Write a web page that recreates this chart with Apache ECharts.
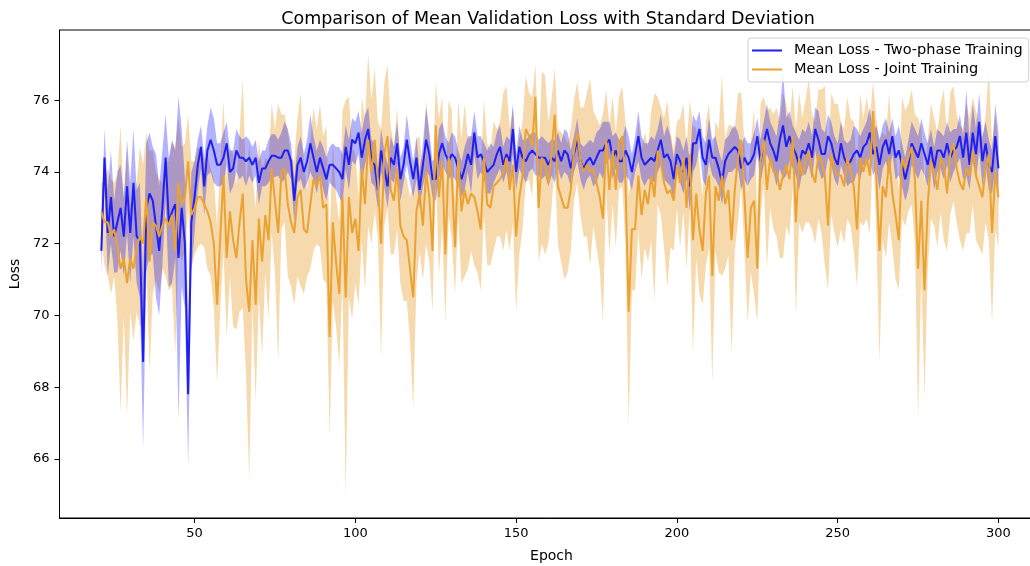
<!DOCTYPE html>
<html>
<head>
<meta charset="utf-8">
<title>Mean Validation Loss</title>
<script src="https://cdn.jsdelivr.net/npm/echarts@6/dist/echarts.min.js"></script>
<style>
  html, body { margin: 0; padding: 0; background: #fff; }
  #chart { width: 1030px; height: 566px; }
</style>
</head>
<body>
<div id="chart"></div>
<script>
// epochs run from 21 to 300, one value per epoch
const firstEpoch = 21;

// Two-phase training: mean loss and standard deviation
const twoPhaseMean = [
  71.8, 74.4, 72.3, 73.3, 72.2, 72.6, 73.0, 72.2, 73.6, 72.3,
  73.7, 72.2, 72.1, 68.7, 73.0, 73.4, 73.2, 72.5, 71.8, 73.0,
  74.4, 72.6, 72.9, 73.1, 71.6, 73.0, 72.0, 67.8, 72.6, 73.3,
  74.2, 74.7, 73.6, 74.6, 74.9, 74.6, 74.2, 74.2, 74.4, 74.8,
  74.0, 74.1, 74.6, 74.4, 74.4, 74.3, 74.4, 74.2, 74.4, 73.7,
  74.1, 74.1, 74.3, 74.45, 74.45, 74.4, 74.4, 74.6, 74.6, 74.3,
  73.2, 74.2, 74.4, 74.0, 74.3, 74.8, 74.4, 74.0, 74.4, 74.1,
  73.8, 74.2, 74.2, 74.1, 74.0, 73.8, 74.7, 74.2, 74.9, 74.8,
  75.1, 74.4, 74.9, 75.2, 74.3, 74.2, 73.5, 74.6, 74.1, 73.6,
  74.4, 74.2, 74.8, 73.8, 74.2, 74.9, 74.3, 73.8, 74.4, 73.5,
  74.2, 74.9, 74.5, 73.8, 73.8, 74.5, 74.8, 74.5, 74.3, 74.5,
  74.4, 74.1, 73.8, 74.1, 74.5, 74.2, 75.1, 74.4, 74.5, 74.3,
  74.0, 74.1, 74.2, 74.5, 74.7, 74.2, 74.5, 74.3, 75.2, 74.0,
  74.7, 74.4, 74.3, 74.5, 74.6, 74.5, 74.4, 74.4, 74.4, 74.2,
  74.4, 74.3, 74.6, 74.3, 74.6, 74.5, 74.1, 74.5, 74.9, 74.3,
  74.1, 74.3, 74.4, 74.2, 74.4, 74.6, 74.6, 74.8, 74.9, 74.4,
  74.6, 74.3, 74.3, 74.6, 74.4, 74.0, 74.5, 75.0, 74.4, 74.2,
  74.3, 74.4, 74.3, 74.6, 74.9, 74.4, 74.5, 74.3, 73.8, 74.5,
  74.3, 74.0, 74.4, 73.6, 74.8, 74.8, 75.2, 74.4, 74.2, 74.9,
  74.4, 74.4, 74.1, 73.7, 74.3, 74.5, 74.6, 74.7, 74.6, 74.1,
  74.4, 74.2, 74.3, 74.5, 75.0, 74.3, 74.8, 75.2, 74.8, 74.6,
  74.3, 74.9, 75.3, 74.7, 75.0, 74.7, 74.5, 74.2, 74.6, 74.5,
  74.8, 74.4, 75.2, 74.9, 74.5, 74.5, 75.0, 74.8, 74.4, 74.2,
  74.8, 74.4, 74.2, 74.3, 74.5, 74.6, 74.4, 74.7, 74.8, 75.1,
  74.5, 74.7, 74.2, 74.7, 74.9, 74.5, 75.0, 74.4, 74.6, 74.2,
  73.8, 74.2, 74.8, 74.6, 74.4, 74.8, 74.5, 74.2, 74.7, 74.1,
  74.6, 74.6, 74.4, 74.8, 74.4, 74.6, 74.7, 75.0, 74.4, 75.1,
  74.2, 75.1, 74.5, 75.4, 74.3, 74.8, 74.2, 74.0, 75.0, 74.1
];
const twoPhaseStd = [
  0.6, 0.8, 1.2, 1.3, 1.0, 1.4, 1.2, 1.1, 1.3, 1.4,
  1.5, 1.3, 1.6, 2.4, 1.8, 1.7, 1.5, 2.0, 1.8, 1.6,
  1.2, 1.8, 2.0, 1.5, 4.5, 2.2, 1.8, 2.0, 1.4, 1.0,
  0.7, 0.6, 0.8, 0.7, 0.9, 0.9, 0.6, 0.6, 0.7, 0.6,
  0.6, 0.5, 0.6, 0.6, 0.5, 0.7, 0.5, 0.5, 0.5, 0.6,
  0.5, 0.5, 0.6, 0.6, 0.6, 0.5, 0.7, 0.8, 0.6, 0.5,
  0.6, 0.5, 0.6, 0.5, 0.6, 0.8, 0.6, 0.6, 0.5, 0.6,
  0.6, 0.5, 0.6, 0.6, 0.7, 0.7, 0.6, 0.7, 0.6, 0.6,
  0.6, 0.7, 0.7, 0.6, 0.6, 0.6, 0.5, 0.6, 0.5, 0.6,
  0.6, 0.5, 0.6, 0.6, 0.5, 0.7, 0.6, 0.5, 0.6, 0.5,
  0.6, 0.9, 0.6, 0.5, 0.6, 0.7, 0.6, 0.5, 0.5, 0.6,
  0.6, 0.5, 0.5, 0.6, 0.5, 0.8, 0.6, 0.6, 0.5, 0.5,
  0.6, 0.7, 0.5, 0.6, 0.6, 0.5, 0.5, 0.6, 0.7, 0.5,
  0.6, 0.5, 0.6, 0.5, 0.5, 0.6, 0.5, 0.6, 0.5, 0.6,
  0.5, 0.6, 0.5, 0.5, 0.6, 0.6, 0.5, 0.5, 0.6, 0.5,
  0.6, 0.5, 0.5, 0.6, 0.7, 0.6, 0.8, 0.6, 0.5, 0.6,
  0.5, 0.6, 0.6, 0.7, 0.6, 0.5, 0.5, 0.7, 0.6, 0.6,
  0.5, 0.6, 0.6, 0.6, 0.7, 0.6, 0.8, 0.7, 0.6, 0.5,
  0.6, 0.6, 0.6, 0.7, 0.8, 0.6, 0.5, 0.6, 0.6, 0.6,
  0.5, 0.6, 0.5, 0.6, 0.6, 0.5, 0.6, 0.6, 0.5, 0.6,
  0.6, 0.6, 0.5, 0.6, 0.5, 0.6, 0.6, 0.7, 0.6, 0.6,
  0.7, 0.8, 1.5, 0.8, 0.7, 0.6, 0.6, 0.7, 0.6, 0.6,
  0.6, 0.6, 0.6, 0.8, 0.7, 0.6, 0.6, 0.6, 0.6, 0.6,
  0.6, 0.5, 0.6, 0.6, 0.8, 0.6, 0.6, 0.5, 0.6, 0.7,
  0.6, 0.6, 0.7, 0.6, 0.6, 0.6, 0.5, 0.6, 0.7, 0.6,
  0.6, 0.7, 0.6, 0.6, 0.6, 0.7, 0.6, 0.6, 0.5, 0.6,
  0.6, 0.5, 0.6, 0.6, 0.7, 0.6, 0.5, 0.6, 0.6, 1.2,
  0.7, 0.8, 0.7, 0.8, 0.7, 0.6, 0.7, 0.6, 0.9, 1.0
];

// Joint training: mean loss and standard deviation
const jointMean = [
  72.9, 72.6, 72.6, 72.2, 72.4, 71.9, 71.3, 71.6, 70.9, 71.6,
  71.3, 71.9, 72.2, 72.0, 73.3, 71.5, 72.6, 72.5, 72.2, 72.5,
  72.7, 72.5, 72.8, 71.8, 73.7, 73.1, 73.3, 74.3, 72.8, 73.0,
  73.3, 73.3, 73.1, 72.9, 72.6, 72.0, 70.3, 72.2, 73.9, 71.6,
  72.9, 72.1, 71.6, 72.6, 73.4, 71.0, 70.1, 72.1, 70.3, 72.7,
  71.5, 72.8, 72.1, 74.1, 73.2, 72.3, 74.0, 74.1, 73.1, 72.6,
  72.3, 73.3, 73.5, 72.4, 72.3, 73.1, 73.8, 73.6, 73.9, 73.0,
  73.1, 69.4, 72.6, 71.5, 70.6, 73.3, 70.5, 73.3, 72.3, 72.7,
  71.8, 74.1, 73.1, 74.9, 74.0, 74.9, 73.8, 72.0, 74.5, 75.0,
  73.5, 73.2, 74.1, 72.5, 72.2, 72.1, 71.3, 70.5, 72.9, 73.4,
  72.5, 74.0, 73.3, 71.8, 75.3, 73.3, 74.3, 71.7, 74.4, 73.9,
  71.9, 74.4, 72.9, 73.5, 73.1, 73.4, 73.3, 72.9, 72.4, 74.4,
  73.1, 73.0, 73.6, 73.7, 73.8, 74.0, 74.4, 73.5, 74.2, 72.2,
  73.3, 73.9, 75.2, 75.0, 74.7, 76.1, 73.0, 74.4, 74.2, 73.7,
  74.5, 75.6, 73.6, 73.3, 73.0, 73.0, 73.5, 74.6, 75.1, 74.3,
  74.0, 74.2, 74.0, 74.1, 73.7, 73.3, 72.7, 74.9, 73.5, 74.6,
  73.5, 74.8, 75.0, 73.7, 70.1, 72.4, 72.4, 73.9, 72.8, 73.5,
  73.1, 73.9, 73.3, 74.6, 74.3, 73.7, 73.4, 73.5, 73.2, 74.2,
  73.7, 74.4, 73.0, 74.5, 72.1, 73.4, 72.4, 71.8, 73.4, 73.9,
  71.1, 73.6, 73.2, 73.9, 73.1, 73.5, 72.1, 73.5, 74.4, 74.9,
  73.3, 71.6, 73.0, 73.2, 71.3, 74.3, 74.9, 73.5, 74.4, 74.0,
  74.0, 73.5, 73.9, 74.2, 73.8, 75.0, 72.6, 74.4, 73.9, 74.3,
  74.6, 74.0, 73.7, 74.5, 74.3, 73.9, 72.5, 74.5, 74.1, 73.9,
  73.9, 73.6, 74.4, 74.0, 73.6, 72.4, 74.4, 74.0, 74.4, 73.9,
  75.7, 73.9, 71.8, 73.6, 73.3, 74.4, 73.4, 72.8, 72.1, 74.4,
  74.1, 74.4, 74.7, 73.8, 71.3, 73.2, 70.7, 73.1, 74.3, 74.0,
  73.5, 74.4, 74.2, 73.4, 74.5, 74.8, 74.1, 73.7, 73.5, 74.1,
  73.9, 74.6, 73.9, 73.6, 73.3, 74.1, 74.5, 72.3, 74.0, 73.3
];
const jointStd = [
  0.8, 1.2, 1.5, 1.6, 1.3, 2.0, 4.0, 1.6, 3.7, 1.5,
  2.0, 1.8, 2.5, 2.2, 1.8, 3.1, 2.0, 1.5, 1.6, 1.2,
  1.6, 1.8, 2.0, 2.9, 1.8, 1.6, 1.5, 1.3, 1.5, 1.3,
  1.4, 1.3, 1.2, 1.6, 1.5, 1.8, 2.2, 2.0, 2.1, 2.2,
  1.8, 2.4, 2.0, 2.5, 3.2, 2.6, 4.7, 1.8, 2.7, 2.2,
  2.6, 1.6, 2.2, 1.8, 2.0, 3.6, 1.6, 1.5, 2.0, 1.8,
  2.0, 2.2, 2.7, 1.8, 1.2, 1.8, 2.0, 1.6, 2.0, 2.0,
  2.2, 2.8, 2.2, 1.8, 2.0, 2.4, 5.5, 2.8, 2.4, 1.8,
  1.5, 2.0, 2.4, 2.4, 2.0, 2.0, 1.6, 3.2, 2.0, 2.0,
  1.8, 1.5, 1.7, 1.6, 1.8, 1.7, 2.0, 3.1, 2.0, 1.6,
  1.5, 2.0, 1.8, 1.7, 1.2, 2.2, 1.8, 1.9, 1.6, 1.8,
  1.3, 1.6, 2.0, 2.4, 1.8, 1.6, 1.9, 1.7, 1.7, 1.6,
  1.7, 1.6, 1.8, 1.5, 1.6, 2.2, 2.0, 1.7, 1.6, 2.1,
  1.6, 1.5, 1.5, 1.2, 1.4, 0.9, 1.5, 2.4, 2.5, 1.7,
  1.5, 1.3, 1.6, 1.8, 2.0, 1.8, 1.7, 1.4, 1.4, 1.5,
  1.8, 2.0, 2.6, 1.6, 1.8, 2.0, 2.9, 1.4, 1.8, 1.5,
  1.6, 1.3, 1.4, 1.7, 3.2, 1.7, 1.7, 1.5, 1.8, 1.6,
  1.6, 1.8, 2.9, 1.5, 1.5, 1.8, 2.6, 1.6, 1.4, 1.2,
  1.8, 1.5, 1.7, 1.5, 3.2, 1.8, 1.8, 1.5, 2.0, 2.0,
  3.0, 1.8, 2.0, 2.8, 1.8, 1.8, 3.2, 1.7, 1.8, 1.3,
  1.5, 1.8, 1.8, 2.6, 1.5, 1.6, 1.2, 2.2, 1.4, 1.6,
  1.8, 1.9, 2.3, 1.7, 1.6, 1.4, 2.6, 1.8, 1.6, 1.7,
  2.0, 1.6, 1.7, 1.8, 2.0, 2.5, 1.8, 1.7, 1.8, 2.0,
  1.5, 1.6, 1.7, 1.5, 1.8, 1.6, 1.8, 1.5, 1.7, 1.6,
  0.8, 1.6, 3.1, 1.5, 1.7, 1.8, 1.5, 1.8, 1.4, 1.7,
  1.6, 1.5, 1.6, 1.8, 4.2, 2.0, 3.0, 1.8, 1.6, 1.5,
  1.6, 1.5, 2.1, 1.6, 1.7, 1.6, 1.5, 1.6, 1.7, 1.8,
  1.6, 1.5, 1.8, 1.7, 1.6, 1.5, 2.4, 2.5, 1.6, 1.4
];

const xTicks = [50, 100, 150, 200, 250, 300];
const yTicks = [66, 68, 70, 72, 74, 76];

const font = 'DejaVu Sans';
// thin horizontal bar, padded to the full icon box
const lineIcon = 'path://M0,0L0,0ZM0,6.5L30,6.5L30,8.5L0,8.5ZM0,15L0,15Z';

// [epoch, value] pairs
function pairs(values) {
  return values.map((v, i) => [firstEpoch + i, v]);
}

// rows of [epoch, mean - std, mean + std]
function bandRows(mean, std) {
  return mean.map((m, i) => [firstEpoch + i, m - std[i], m + std[i]]);
}

// filled band between mean-std and mean+std, drawn as one polygon
function band(name, mean, std, color, opacity) {
  const rows = bandRows(mean, std);
  return {
    name: name, type: 'custom', silent: true,
    data: rows,
    encode: { x: 0, y: [1, 2] },
    renderItem: function (params, api) {
      if (params.dataIndexInside !== 0) return null;
      const top = rows.map(r => api.coord([r[0], r[2]]));
      const bottom = rows.map(r => api.coord([r[0], r[1]])).reverse();
      return {
        type: 'polygon',
        shape: { points: top.concat(bottom) },
        style: { fill: color, opacity: opacity, stroke: null }
      };
    }
  };
}

const chart = echarts.init(document.getElementById('chart'));
chart.setOption({
  animation: false,
  backgroundColor: '#fff',
  textStyle: { fontFamily: font },
  title: {
    text: 'Comparison of Mean Validation Loss with Standard Deviation',
    left: 543, top: 5, textAlign: 'center',
    textStyle: { fontFamily: font, fontSize: 17.5, fontWeight: 'normal', color: '#000' }
  },
  legend: {
    data: [
      { name: 'Mean Loss - Two-phase Training', icon: lineIcon },
      { name: 'Mean Loss - Joint Training', icon: lineIcon }
    ],
    orient: 'vertical', left: 748, top: 38,
    itemWidth: 30, itemHeight: 15, itemGap: 4,
    padding: [5, 6, 5, 4],
    backgroundColor: 'rgba(255,255,255,0.8)',
    borderColor: '#d0d0d0', borderWidth: 1, borderRadius: 3,
    textStyle: { fontFamily: font, fontSize: 14.5, color: '#000', padding: [0, 0, 0, 7] }
  },
  grid: {
    left: 59.5, top: 30, right: -13.5, bottom: 48,
    outerBoundsMode: 'none',
    show: true, borderColor: '#000', borderWidth: 1
  },
  xAxis: {
    type: 'value', min: 8, max: 314,
    name: 'Epoch', nameLocation: 'middle', nameGap: 31,
    nameTextStyle: { fontFamily: font, fontSize: 14, color: '#000' },
    axisLine: { show: true, lineStyle: { color: '#000' } },
    axisTick: { show: true, length: 5, customValues: xTicks, lineStyle: { color: '#000' } },
    axisLabel: { customValues: xTicks, fontFamily: font, fontSize: 13, color: '#000', margin: 9 },
    splitLine: { show: false }
  },
  yAxis: {
    type: 'value', min: 64.35, max: 77.96,
    name: 'Loss', nameLocation: 'middle', nameGap: 36, nameRotate: 90,
    nameTextStyle: { fontFamily: font, fontSize: 14, color: '#000' },
    axisLine: { show: true, lineStyle: { color: '#000' } },
    axisTick: { show: true, length: 5, customValues: yTicks, lineStyle: { color: '#000' } },
    axisLabel: { customValues: yTicks, fontFamily: font, fontSize: 13, color: '#000', margin: 10 },
    splitLine: { show: false }
  },
  series: [
    band('joint band', jointMean, jointStd, '#e8a030', 0.4),
    band('twoPhase band', twoPhaseMean, twoPhaseStd, '#0000ff', 0.3),
    {
      name: 'Mean Loss - Two-phase Training', type: 'line', symbol: 'none',
      data: pairs(twoPhaseMean), color: '#1f1ff2',
      lineStyle: { width: 2, color: '#1f1ff2' }
    },
    {
      name: 'Mean Loss - Joint Training', type: 'line', symbol: 'none',
      data: pairs(jointMean), color: '#eaa232',
      lineStyle: { width: 2, color: '#eaa232' }
    }
  ]
});
</script>
</body>
</html>
